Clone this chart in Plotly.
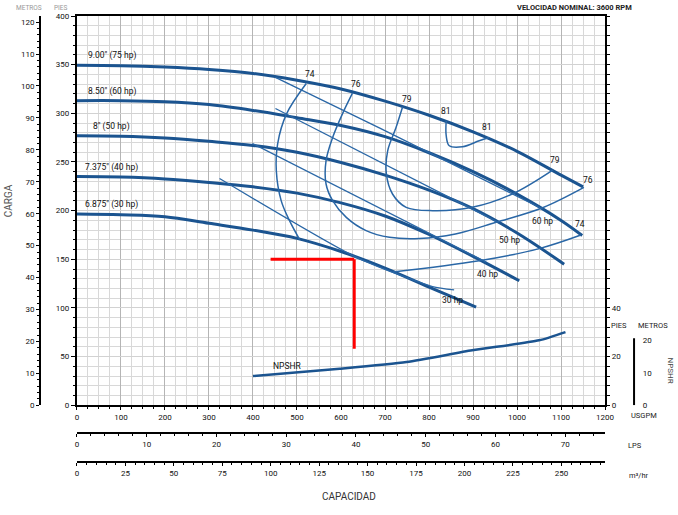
import plotly.graph_objects as go

# ---------------- data (USGPM, feet) ----------------
flow_900 = [0, 100, 200, 300, 400, 500, 600, 700, 800, 900, 1000, 1100, 1150]
head_900 = [349.5, 349, 347.5, 345, 341, 334, 325, 312.5, 298, 281, 261, 236.5, 224.5]

flow_850 = [0, 100, 200, 300, 400, 500, 600, 700, 800, 900, 1000, 1100, 1148]
head_850 = [313, 313, 312, 309, 303, 295.5, 287.5, 276, 259.5, 240, 217, 190, 174.5]

flow_800 = [0, 100, 200, 300, 400, 500, 600, 700, 800, 900, 1000, 1107]
head_800 = [277, 276.5, 274.7, 271.3, 267, 260, 249.5, 236.5, 221, 202, 177, 145]

flow_7375 = [0, 100, 200, 300, 400, 500, 600, 700, 800, 900, 1005]
head_7375 = [235, 234.5, 232.6, 229, 224.5, 218, 208, 194.5, 175.5, 153, 128]

flow_6875 = [0, 100, 200, 300, 400, 500, 600, 700, 800, 907]
head_6875 = [196.5, 195.8, 193.8, 187, 180, 171.5, 158, 141, 121.5, 101]

diam_labels = ['9.00" (75 hp)', '8.50" (60 hp)', '8" (50 hp)', '7.375" (40 hp)', '6.875" (30 hp)']
diam_label_flow = [20, 20, 31, 13, 13]

# power lines
hp60_flow = [451, 687, 1057]
hp60_head = [337, 285, 202]
hp50_flow = [451, 953]
hp50_head = [305, 189]
hp40_flow = [399, 930]
hp40_head = [269, 147]
hp30_flow = [324, 635, 808, 857]
hp30_head = [233, 152, 122, 118.5]
hp_labels = ["60 hp", "50 hp", "40 hp", "30 hp"]
hp_label_flow = [1058, 982, 933, 854]
hp_label_head = [189.7, 170, 135, 108.7]

# efficiency contours (%)
eff74a_flow = [521, 476, 456, 453, 464, 483, 506]
eff74a_head = [330.6, 299.2, 268.7, 241, 210.3, 189.7, 170.3]
eff74b_flow = [718, 914, 1050, 1145]
eff74b_head = [137, 148.5, 161, 175]
eff76_flow = [626, 603, 581, 566, 566, 581, 612, 657, 710, 778, 860, 952, 1058, 1152]
eff76_head = [320.7, 299.2, 275.2, 251.3, 227.4, 210.3, 193.1, 179.5, 172.6, 171.3, 176, 188, 203, 223.9]
eff79_flow = [740, 725, 706, 703, 717, 748, 808, 898, 989, 1081]
eff79_head = [306.7, 285.4, 261.5, 238, 217.1, 203.4, 200, 203.4, 217.1, 241.7]
eff81_flow = [839, 839, 846, 876, 914, 937]
eff81_head = [292.3, 277, 266.7, 265.6, 271.8, 275.2]
eff_labels = ["74", "76", "79", "81", "81", "79", "76", "74"]
eff_label_flow = [529, 633, 749, 839, 931, 1087, 1162, 1143]
eff_label_head = [340.5, 330.3, 314.9, 302.6, 286.2, 252.3, 231.5, 186.4]

# NPSHR (feet)
npshr_flow = [400, 597, 749, 898, 1050, 1110]
npshr_ft = [12, 15, 17.8, 22.6, 26.7, 30.1]

# duty point marker lines
red_h_flow = [440, 630]
red_h_head = [150, 150]
red_v_flow = [630, 630]
red_v_head = [150, 58]

# axis ticks
gpm_ticks = list(range(0, 1201, 100))
ft_ticks = list(range(0, 401, 50))
m_ticks = list(range(0, 121, 10))
lps_ticks = list(range(0, 71, 10))
m3h_ticks = list(range(0, 251, 25))
npshr_ft_ticks = [0, 20, 40]
npshr_m_ticks = [0, 10, 20]

GPM_PER_LPS = 15.850323
GPM_PER_M3H = 4.402868
M_PER_FT = 0.3048

THICK = "#1b5490"
THIN = "#2a67a6"
FONT = "Roboto"

fig = go.Figure()

for fx, hy in [(flow_900, head_900), (flow_850, head_850), (flow_800, head_800),
               (flow_7375, head_7375), (flow_6875, head_6875)]:
    fig.add_trace(go.Scatter(x=fx, y=hy, mode="lines", line=dict(color=THICK, width=3, shape="spline", smoothing=1.0),
                             showlegend=False, hoverinfo="skip"))

for fx, hy in [(hp60_flow, hp60_head), (hp50_flow, hp50_head), (hp40_flow, hp40_head), (hp30_flow, hp30_head)]:
    fig.add_trace(go.Scatter(x=fx, y=hy, mode="lines", line=dict(color=THIN, width=1.3, shape="spline", smoothing=0.6),
                             showlegend=False, hoverinfo="skip"))

for fx, hy in [(eff74a_flow, eff74a_head), (eff74b_flow, eff74b_head), (eff76_flow, eff76_head),
               (eff79_flow, eff79_head), (eff81_flow, eff81_head)]:
    fig.add_trace(go.Scatter(x=fx, y=hy, mode="lines", line=dict(color=THIN, width=1.5, shape="spline", smoothing=1.0),
                             showlegend=False, hoverinfo="skip"))

fig.add_trace(go.Scatter(x=red_h_flow, y=red_h_head, mode="lines", line=dict(color="#ff0000", width=3),
                         showlegend=False, hoverinfo="skip"))
fig.add_trace(go.Scatter(x=red_v_flow, y=red_v_head, mode="lines", line=dict(color="#ff0000", width=3),
                         showlegend=False, hoverinfo="skip"))

fig.add_trace(go.Scatter(x=npshr_flow, y=npshr_ft, yaxis="y3", mode="lines",
                         line=dict(color=THICK, width=2.5, shape="spline", smoothing=0.6),
                         showlegend=False, hoverinfo="skip"))

# carriers for the secondary scales
fig.add_trace(go.Scatter(x=[None], y=[None], yaxis="y2", showlegend=False, hoverinfo="skip"))
fig.add_trace(go.Scatter(x=[None], y=[None], xaxis="x2", showlegend=False, hoverinfo="skip"))
fig.add_trace(go.Scatter(x=[None], y=[None], xaxis="x3", showlegend=False, hoverinfo="skip"))
fig.add_trace(go.Scatter(x=[None], y=[None], yaxis="y4", showlegend=False, hoverinfo="skip"))

ann = []
for lab, hy, dx in zip(diam_labels, [head_900, head_850, head_800, head_7375, head_6875], diam_label_flow):
    ann.append(dict(x=dx, y=hy[0], xref="x", yref="y", text=lab, showarrow=False, xanchor="left",
                    yanchor="bottom", yshift=2, font=dict(size=8.5, color="#111")))
for lab, fx, hy in zip(eff_labels, eff_label_flow, eff_label_head):
    ann.append(dict(x=fx, y=hy, xref="x", yref="y", text=lab, showarrow=False, font=dict(size=8.5, color="#111")))
for lab, fx, hy in zip(hp_labels, hp_label_flow, hp_label_head):
    ann.append(dict(x=fx, y=hy, xref="x", yref="y", text=lab, showarrow=False, font=dict(size=8.5, color="#111")))
ann.append(dict(x=479, y=16, xref="x", yref="y3", text="NPSHR", showarrow=False, font=dict(size=8.5, color="#111")))


def pa(x, y, text, size=8, color="#222", **kw):
    d = dict(x=x, y=y, xref="paper", yref="paper", text=text, showarrow=False,
             xanchor="center", yanchor="middle", font=dict(size=size, color=color))
    d.update(kw)
    return d


ann += [
    pa(0.8657, 1.0195, "<b>VELOCIDAD NOMINAL: 3600 RPM</b>", size=7.5),
    pa(-0.0518, 0.5965, "CARGA", size=10, color="#555", textangle=-90),
    pa(0.5016, -0.0477, "CAPACIDAD", size=10, color="#333"),
    pa(0.9385, 0.3254, "PIES", size=7.5),
    pa(0.9935, 0.3254, "METROS", size=7.5),
    pa(1.0227, 0.2278, "NPSHR", size=8, color="#444", textangle=90),
    pa(0.9790, 0.1302, "USGPM", size=7.5),
    pa(0.9644, 0.0651, "LPS", size=7.5),
    pa(0.9709, 0.0, "m³/hr", size=7.5),
    pa(-0.0178, 1.0304, "METROS", size=6.5, color="#999", yanchor="top"),
    pa(0.034, 1.0304, "PIES", size=6.5, color="#999", yanchor="top"),
]

tickfont = dict(size=8, color="#111", family=FONT)

fig.update_layout(
    width=678, height=515,
    margin=dict(l=40, r=20, t=14, b=40),
    paper_bgcolor="white", plot_bgcolor="white",
    font=dict(family=FONT, size=8, color="#111"),
    annotations=ann,
    shapes=[dict(type="line", xref="paper", yref="y4", x0=0.9628, x1=0.9628, y0=0, y1=20.7,
                 line=dict(color="black", width=2))],
    xaxis=dict(domain=[0.05987, 0.91586], range=[0, 1200], tickvals=gpm_ticks, showline=True,
               linecolor="black", linewidth=2, mirror=True, ticks="outside", ticklen=3, tickcolor="black",
               showgrid=True, gridcolor="#b5b5b5", gridwidth=1, zeroline=False, tickfont=tickfont,
               minor=dict(dtick=25, ticks="outside", ticklen=2, tickcolor="black", showgrid=True,
                          gridcolor="#d8d8d8", gridwidth=1)),
    yaxis=dict(domain=[0.15184, 1.0], range=[0, 400], tickvals=ft_ticks, showline=True,
               linecolor="black", linewidth=2, mirror=True, ticks="outside", ticklen=4, tickcolor="black",
               showgrid=True, gridcolor="#d2d2d2", gridwidth=1, zeroline=False, tickfont=tickfont,
               minor=dict(dtick=10, ticks="outside", ticklen=2, tickcolor="black", showgrid=True,
                          gridcolor="#d8d8d8", gridwidth=1)),
    yaxis2=dict(overlaying="y", anchor="free", position=0, side="left", range=[0, 400 * M_PER_FT],
                tickvals=m_ticks, showline=True, linecolor="black", linewidth=2, ticks="outside",
                ticklen=3, tickcolor="black", showgrid=False, zeroline=False, tickfont=tickfont,
                minor=dict(dtick=2, ticks="outside", ticklen=2, tickcolor="black")),
    yaxis3=dict(overlaying="y", anchor="x", side="right", range=[0, 160],
                tickmode="array", tickvals=list(range(0, 161, 4)),
                ticktext=[str(v) if v in npshr_ft_ticks else "" for v in range(0, 161, 4)],
                showline=True, linecolor="black", linewidth=2, ticks="outside", ticklen=3,
                tickcolor="black", showgrid=False, zeroline=False, tickfont=tickfont),
    yaxis4=dict(overlaying="y", anchor="free", position=0.9628, side="right", range=[0, 120],
                tickvals=npshr_m_ticks, showline=False, ticks="outside", ticklen=6,
                tickcolor="rgba(0,0,0,0)", showgrid=False, zeroline=False, tickfont=tickfont),
    xaxis2=dict(overlaying="x", anchor="free", position=0.0911, side="bottom",
                range=[0, 1200 / GPM_PER_LPS], tickvals=lps_ticks, showline=True, linecolor="black",
                linewidth=2, ticks="outside", ticklen=3, tickcolor="black", showgrid=False,
                zeroline=False, tickfont=tickfont,
                minor=dict(dtick=2, ticks="outside", ticklen=2, tickcolor="black")),
    xaxis3=dict(overlaying="x", anchor="free", position=0.0282, side="bottom",
                range=[0, 1200 / GPM_PER_M3H], tickvals=m3h_ticks, showline=True, linecolor="black",
                linewidth=2, ticks="outside", ticklen=3, tickcolor="black", showgrid=False,
                zeroline=False, tickfont=tickfont,
                minor=dict(dtick=5, ticks="outside", ticklen=2, tickcolor="black")),
)

fig.write_html("out.html")
